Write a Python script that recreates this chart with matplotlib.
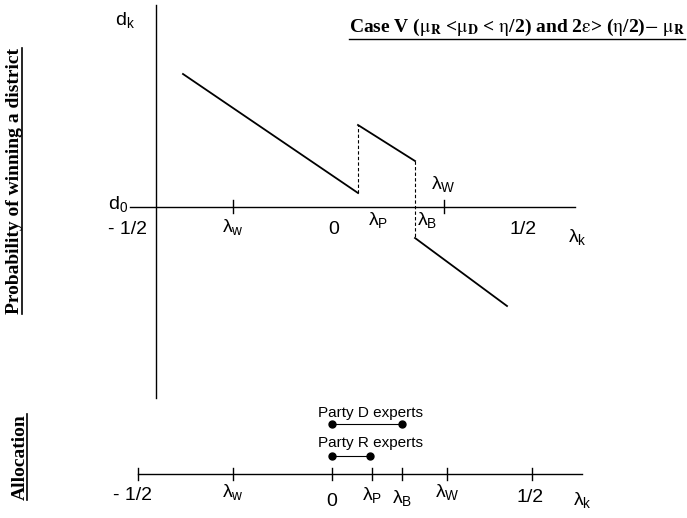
import matplotlib.pyplot as plt
from matplotlib.lines import Line2D

plt.rcParams['mathtext.fontset'] = 'custom'
plt.rcParams['mathtext.rm'] = 'Liberation Sans'
plt.rcParams['mathtext.it'] = 'Liberation Sans:italic'
plt.rcParams['mathtext.bf'] = 'Liberation Sans:bold'
plt.rcParams['font.family'] = ['Liberation Sans', 'DejaVu Sans']

# top panel: probability of winning, lambda on x, d on y
x_left = [-0.3725, 0.065]
d_left = [1.33, 0.14]
x_mid = [0.065, 0.2075]
d_mid = [0.82, 0.46]
x_right = [0.2075, 0.4375]
d_right = [-0.31, -0.99]
top_ticks = [-0.2475, 0.28]
top_labels = ['- 1/2', r'$\mathrm{\lambda}_{\mathrm{w}}$', '0', r'$\mathrm{\lambda}_{\mathrm{P}}$',
              r'$\mathrm{\lambda}_{\mathrm{B}}$', r'$\mathrm{\lambda}_{\mathrm{W}}$', '1/2',
              r'$\mathrm{\lambda}_{\mathrm{k}}$']
top_label_x = [-0.51, -0.2475, 0.005, 0.115, 0.2375, 0.2775, 0.4775, 0.6125]
top_label_y = [-0.23, -0.20, -0.23, -0.13, -0.13, 0.23, -0.23, -0.30]

# bottom panel: allocation of experts
bot_ticks = [-0.485, -0.2475, 0, 0.1, 0.175, 0.2875, 0.5]
bot_labels = ['- 1/2', r'$\mathrm{\lambda}_{\mathrm{w}}$', '0', r'$\mathrm{\lambda}_{\mathrm{P}}$',
              r'$\mathrm{\lambda}_{\mathrm{B}}$', r'$\mathrm{\lambda}_{\mathrm{W}}$', '1/2',
              r'$\mathrm{\lambda}_{\mathrm{k}}$']
bot_label_x = [-0.4975, -0.2475, 0, 0.1, 0.175, 0.2875, 0.495, 0.627]
bot_label_y = [-0.21, -0.18, -0.27, -0.21, -0.24, -0.18, -0.23, -0.26]
party_d = [0, 0.175]
party_r = [0, 0.095]

fig = plt.figure(figsize=(6.87, 5.18), dpi=100)

ax = fig.add_axes([0, 118 / 518, 1, 400 / 518])
ax.set_xlim(-0.83, 0.8875)
ax.set_ylim(-1.93, 2.07)
ax.axis('off')

# axes
ax.plot([-0.44, -0.44], [2.02, -1.91], color='black', lw=1.0)
ax.plot([-0.505, 0.6075], [0, 0], color='black', lw=1.0)
for t in top_ticks:
    ax.plot([t, t], [-0.06, 0.07], color='black', lw=1.0)

ax.plot(x_left, d_left, color='black', lw=1.3)
ax.plot(x_mid, d_mid, color='black', lw=1.3)
ax.plot(x_right, d_right, color='black', lw=1.3)
ax.plot([x_left[1], x_mid[0]], [d_left[1], d_mid[0]], color='black', lw=0.8, ls=(0, (3, 2)))
ax.plot([x_mid[1], x_right[0]], [d_mid[1], d_right[0]], color='black', lw=0.8, ls=(0, (3, 2)))

for lab, lx, ly in zip(top_labels, top_label_x, top_label_y):
    ax.text(lx, ly, lab, fontsize=14, ha='center', va='center')
ax.text(-0.535, 0.03, r'$\mathrm{d}_{\mathrm{0}}$', fontsize=14, ha='center', va='center')
ax.text(-0.5175, 1.87, r'$\mathrm{d}_{\mathrm{k}}$', fontsize=14, ha='center', va='center')

title = ax.text(0.8825, 1.80,
                r'Case V ($\mathrm{\mu}_{\mathbf{R}}$ <$\mathrm{\mu}_{\mathbf{D}}$ < $\mathrm{\eta}$/2) and 2$\mathrm{\varepsilon}$> ($\mathrm{\eta}$/2)$-$ $\mathrm{\mu}_{\mathbf{R}}$',
                fontsize=14, fontweight='bold', family='Liberation Serif',
                math_fontfamily='stix', ha='right', va='center')

# allocation panel
bx = fig.add_axes([0, 0, 1, 118 / 518])
bx.set_xlim(-0.83, 0.8875)
bx.set_ylim(-0.44, 0.74)
bx.axis('off')
bx.plot([-0.485, 0.625], [0, 0], color='black', lw=1.0)
for t in bot_ticks:
    bx.plot([t, t], [-0.06, 0.06], color='black', lw=1.0)
for lab, lx, ly in zip(bot_labels, bot_label_x, bot_label_y):
    bx.text(lx, ly, lab, fontsize=14, ha='center', va='center')

bx.plot(party_d, [0.5, 0.5], color='black', lw=0.8, marker='o', ms=5)
bx.plot(party_r, [0.18, 0.18], color='black', lw=0.8, marker='o', ms=5)
bx.text(0.095, 0.61, 'Party D experts', fontsize=11, ha='center', va='center')
bx.text(0.095, 0.31, 'Party R experts', fontsize=11, ha='center', va='center')

ylab = fig.text(15 / 687, 1 - 181 / 518, 'Probability of winning a district', rotation=90,
                fontsize=14, fontweight='bold', family='Liberation Serif', ha='center', va='center')
alab = fig.text(20 / 687, 1 - 457 / 518, 'Allocation', rotation=90,
                fontsize=14, fontweight='bold', family='Liberation Serif', ha='center', va='center')

# underlines
fig.canvas.draw()
inv = fig.transFigure.inverted()
bb = title.get_window_extent()
p0 = inv.transform((bb.x0, bb.y0 - 1))
p1 = inv.transform((bb.x1, bb.y0 - 1))
fig.add_artist(Line2D([p0[0], p1[0]], [p0[1], p1[1]], color='black', lw=1.0, transform=fig.transFigure))
for t in (ylab, alab):
    bb = t.get_window_extent()
    p0 = inv.transform((bb.x1 - 2, bb.y0))
    p1 = inv.transform((bb.x1 - 2, bb.y1))
    fig.add_artist(Line2D([p0[0], p1[0]], [p0[1], p1[1]], color='black', lw=1.2, transform=fig.transFigure))

fig.savefig('out.png', dpi=100)
